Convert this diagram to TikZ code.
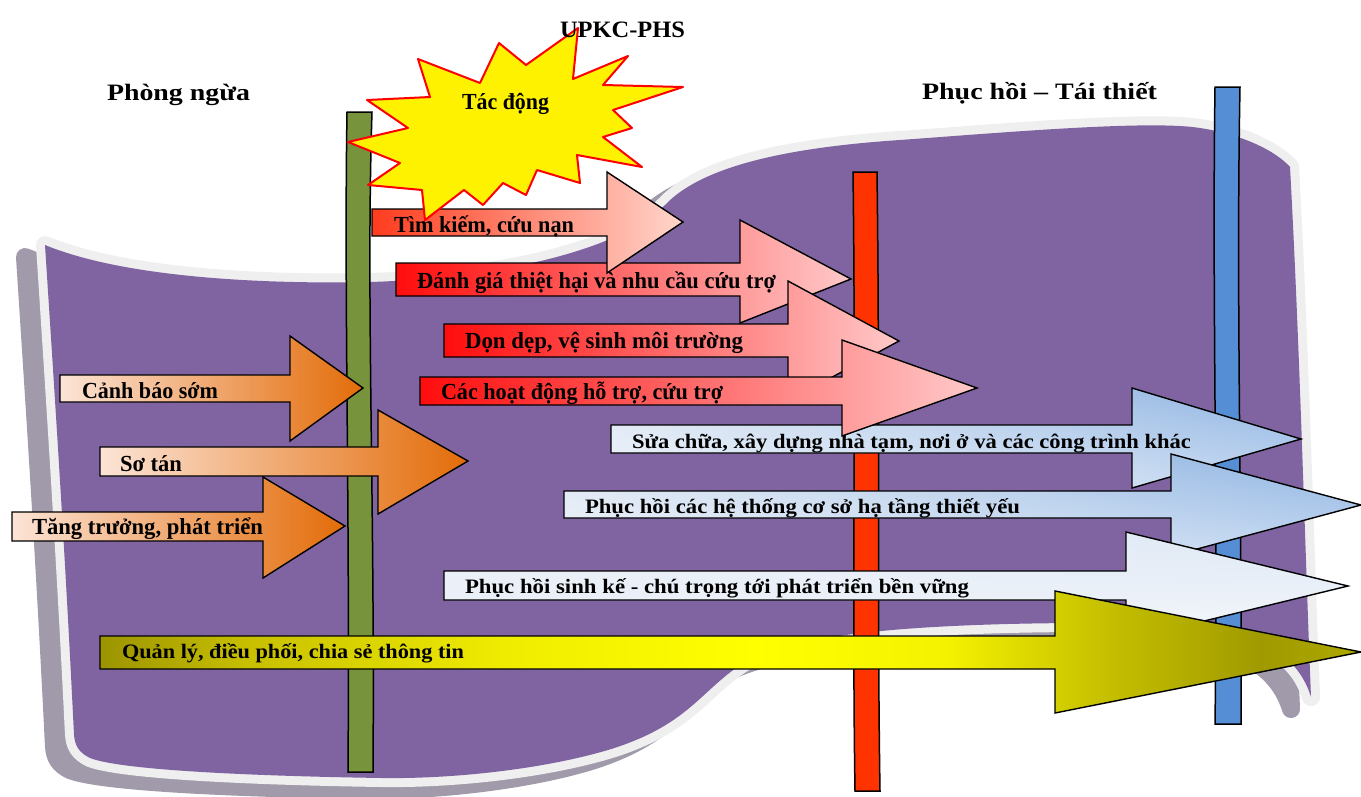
\documentclass[tikz,border=0pt]{standalone}
\usepackage{fontspec}
\setmainfont{Liberation Serif}
\usepackage{graphicx}
\usetikzlibrary{shadings}
\definecolor{shadowc}{HTML}{A09AAA}
\definecolor{bandc}{HTML}{EFEFEF}
\definecolor{purplec}{HTML}{8064A2}
\definecolor{greenbar}{HTML}{77933C}
\definecolor{redbar}{HTML}{FF3300}
\definecolor{bluebar}{HTML}{558ED5}
\definecolor{orL}{HTML}{FCE4D6}
\definecolor{orR}{HTML}{E36C09}
\definecolor{rdL}{HTML}{FF0D0D}
\definecolor{rdR}{HTML}{FFC9C9}
\definecolor{rtL}{HTML}{FF3C1E}
\definecolor{rtR}{HTML}{FFD6CC}
\definecolor{bUL}{HTML}{DCE6F2}
\definecolor{bUR}{HTML}{8DB3E2}
\definecolor{bLL}{HTML}{EEF3FA}
\definecolor{bLR}{HTML}{C6D9F1}
\definecolor{wUL}{HTML}{EEF2F9}
\definecolor{wUR}{HTML}{DDE7F4}
\definecolor{wLL}{HTML}{E8EEF7}
\definecolor{wLR}{HTML}{F6F8FC}
\definecolor{yA}{HTML}{9C9400}
\definecolor{yB}{HTML}{C8C000}
\definecolor{yC}{HTML}{F0EC00}
\definecolor{yD}{HTML}{FFFF00}
\definecolor{yE}{HTML}{F5F200}
\definecolor{yF}{HTML}{C8C200}
\definecolor{yG}{HTML}{A09A00}
\definecolor{yH}{HTML}{AEA800}
\pgfdeclarehorizontalshading{yelsh}{100bp}{color(0bp)=(yA); color(25bp)=(yA); color(31bp)=(yB); color(41bp)=(yC); color(51bp)=(yD); color(58.5bp)=(yE); color(64.5bp)=(yF); color(71bp)=(yG); color(75bp)=(yH); color(100bp)=(yH)}
\newcommand{\fitw}[2]{\resizebox{#1pt}{\height}{#2}}
\newcommand{\barrow}[9]{%
  \path[#1] (#2,#3) -- (#5,#3) -- (#5,#6) -- (#8,#9) -- (#5,#7) -- (#5,#4) -- (#2,#4) -- cycle;}
\tikzset{
  banner/.style={insert path={(45,245) .. controls (130,280) and (280,284) .. (370,282)
    .. controls (500,278) and (620,250) .. (665,205)
    .. controls (700,168) and (780,148) .. (900,140)
    .. controls (1010,132) and (1150,120) .. (1200,128)
    .. controls (1240,134) and (1275,150) .. (1290,167)
    .. controls (1300,350) and (1305,550) .. (1311,697)
    .. controls (1295,645) and (1240,622) .. (1130,623)
    .. controls (950,622) and (800,630) .. (745,662)
    .. controls (700,690) and (690,725) .. (608,750)
    .. controls (540,770) and (450,779) .. (382,778)
    .. controls (250,776) and (120,770) .. (90,758)
    .. controls (78,752) and (75,745) .. (74,735)
    .. controls (65,550) and (55,400) .. (45,245) -- cycle}},
  vbar/.style={draw=black, line width=1.5pt},
  arr/.style={draw=black, line width=1.4pt, line join=miter},
  orarr/.style={arr, left color=orL, right color=orR},
  rdarr/.style={arr, left color=rdL, right color=rdR},
  rtarr/.style={arr, left color=rtL, right color=rtR},
  blarr/.style={arr, upper left=bUL, upper right=bUR, lower left=bLL, lower right=bLR},
  wharr/.style={arr, upper left=wUL, upper right=wUR, lower left=wLL, lower right=wLR},
  ylarr/.style={arr, shading=yelsh},
  lbl/.style={inner sep=0pt, outer sep=0pt, anchor=base west, font=\fontsize{23}{25}\selectfont\bfseries},
  lbls/.style={lbl, font=\fontsize{20.5}{22}\selectfont\bfseries},
  ttl/.style={lbl, font=\fontsize{23.5}{25}\selectfont\bfseries}
}
\begin{document}
\begin{tikzpicture}[x=1pt,y=-1pt]
\useasboundingbox (0,0) rectangle (1361,796);
\fill[white] (0,0) rectangle (1361,796);
% banner: shadow, band, purple
\begin{scope}[shift={(-20,12)}]
  \path[fill=shadowc, draw=shadowc, line width=18pt, line join=round, banner];
\end{scope}
\path[draw=bandc, line width=18pt, line join=round, banner];
\path[fill=purplec, banner];
% vertical bars
\path[vbar, fill=greenbar] (347,112) .. controls (344,300) and (350,500) .. (348,772)
  -- (373,772) .. controls (375,500) and (366,300) .. (372,112) -- cycle;
\path[vbar, fill=redbar] (853,172) .. controls (856,400) and (852,600) .. (855,791)
  -- (880,791) .. controls (877,600) and (880,400) .. (877,172) -- cycle;
\path[vbar, fill=bluebar] (1215,87) .. controls (1212,300) and (1218,500) .. (1215,724)
  -- (1241,724) .. controls (1242,500) and (1236,300) .. (1240,87) -- cycle;
% orange arrows
\barrow{orarr}{60}{375}{402}{290}{336}{441}{363}{388}
\node[lbl] (tCanh) at (82,398) {\fitw{136}{Cảnh báo sớm}};
\barrow{orarr}{100}{447}{476}{378}{410}{514}{468}{461}
\node[lbl] (tSo) at (120,471) {\fitw{62}{Sơ tán}};
\barrow{orarr}{12}{512}{541}{263}{477}{578}{345}{526}
\node[lbl] (tTang) at (32,534) {\fitw{231}{Tăng trưởng, phát triển}};
% red arrows
\barrow{rdarr}{396}{263}{296}{740}{220}{323}{851}{279}
\node[lbl] (tDanh) at (417,288) {\fitw{359}{Đánh giá thiệt hại và nhu cầu cứu trợ}};
\barrow{rtarr}{372}{209}{236}{607}{172}{273}{683}{222}
\node[lbl] (tTim) at (394,232) {\fitw{180}{Tìm kiếm, cứu nạn}};
\barrow{rdarr}{444}{324}{357}{788}{281}{401}{899}{341}
\node[lbl] (tDon) at (465,348) {\fitw{278}{Dọn dẹp, vệ sinh môi trường}};
% blue arrow (under the next red one)
\barrow{blarr}{611}{425}{453}{1132}{388}{488}{1301}{439}
\node[lbls] (tSua) at (632,448) {\fitw{559}{Sửa chữa, xây dựng nhà tạm, nơi ở và các công trình khác}};
\barrow{rdarr}{420}{377}{405}{842}{340}{436}{977}{388}
\node[lbl] (tCac) at (441,399) {\fitw{282}{Các hoạt động hỗ trợ, cứu trợ}};
\barrow{blarr}{564}{491}{518}{1171}{454}{556}{1361}{505}
\node[lbls] (tPhht) at (585,513) {\fitw{435}{Phục hồi các hệ thống cơ sở hạ tầng thiết yếu}};
\barrow{wharr}{444}{571}{600}{1126}{532}{640}{1348}{586}
\node[lbls] (tPhsk) at (465,593) {\fitw{504}{Phục hồi sinh kế - chú trọng tới phát triển bền vững}};
\barrow{ylarr}{100}{636}{669}{1055}{591}{713}{1361}{652}
\node[lbls] (tQl) at (122,658) {\fitw{342}{Quản lý, điều phối, chia sẻ thông tin}};
% starburst
\path[fill=yellow, draw=red, line width=2pt, line join=round]
  (578,28) -- (573,79) -- (628,56) -- (603,85) -- (683,87) -- (613,110) -- (632,128)
  -- (603,137) -- (642,167) -- (577,155) -- (580,183) -- (537,170) -- (526,195)
  -- (503,183) -- (483,205) -- (464,190) -- (425,220) -- (422,190) -- (368,185)
  -- (400,163) -- (348,142) -- (408,128) -- (367,100) -- (430,97) -- (418,59)
  -- (480,83) -- (499,43) -- (526,65) -- cycle;
\node[lbl] (tTac) at (462,109) {\fitw{87}{Tác động}};
% titles
\node[ttl] (tUP) at (560,37) {\fitw{125}{UPKC-PHS}};
\node[ttl] (tPhong) at (107,100) {\fitw{143}{Phòng ngừa}};
\node[ttl] (tPhuc) at (922,99) {\fitw{235}{Phục hồi – Tái thiết}};
\end{tikzpicture}
\end{document}
